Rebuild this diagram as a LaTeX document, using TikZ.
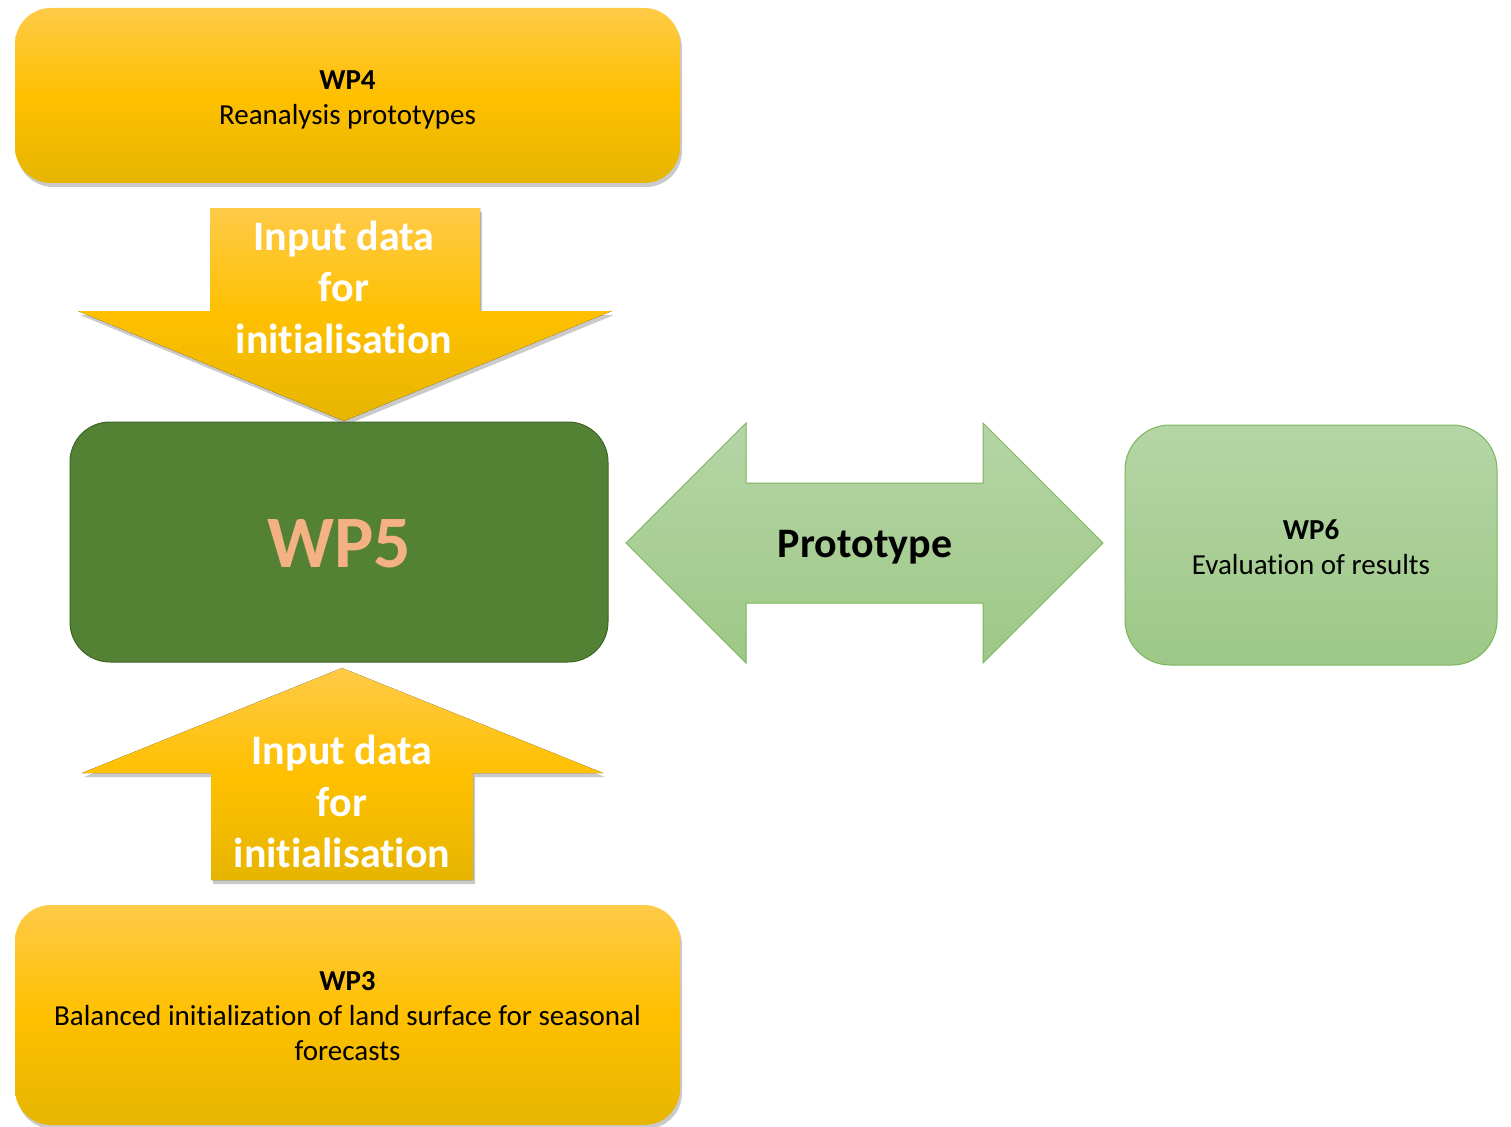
\documentclass[tikz,border=0pt]{standalone}
\usepackage{fontspec}
\setmainfont{Carlito}[Ligatures=NoCommon]
\usetikzlibrary{shadows}
\definecolor{goldtop}{HTML}{FFCA48}
\definecolor{goldmid}{HTML}{FFC000}
\definecolor{goldbot}{HTML}{E6B500}
\definecolor{darkgreen}{HTML}{548235}
\definecolor{darkgreenline}{HTML}{3E6426}
\definecolor{lgtop}{HTML}{B5D5A6}
\definecolor{lgbot}{HTML}{9DC886}
\definecolor{lgline}{HTML}{7CB55A}
\definecolor{peach}{HTML}{F4B183}
\begin{document}
\begin{tikzpicture}[x=1pt,y=-1pt,
  goldfill/.style={top color=goldtop, bottom color=goldbot, middle color=goldmid,
    drop shadow={shadow xshift=2pt, shadow yshift=-4pt, opacity=0.35, fill=black!60}},
  goldbox/.style={goldfill, rounded corners=36pt, inner sep=0pt},
  boxtext/.style={align=center, font=\fontsize{29}{35}\selectfont},
  lgfill/.style={top color=lgtop, bottom color=lgbot, draw=lgline, line width=1pt},
  arrowtext/.style={text=white, font=\bfseries\fontsize{42}{51.5}\selectfont, align=center},
]
\useasboundingbox (0,0) rectangle (1511,1126);

% boxes
\node[goldbox, minimum width=665pt, minimum height=175pt] (wp4) at (347.5,95.5) {};
\node[boxtext] (wp4txt) at ([yshift=-4pt]wp4.center) {\textbf{WP4}\\Reanalysis prototypes};
\node[goldbox, minimum width=665pt, minimum height=220pt] (wp3) at (347.5,1015) {};
\node[boxtext] (wp3txt) at ([yshift=-1pt]wp3.center)
  {\textbf{WP3}\\Balanced initialization of land surface for seasonal\\forecasts};
\node[fill=darkgreen, draw=darkgreenline, line width=1pt, rounded corners=40pt,
  minimum width=538pt, minimum height=240pt, inner sep=0pt] (wp5) at (339,542) {};
\node[text=peach, font=\bfseries\fontsize{74}{80}\selectfont] (wp5txt)
  at ([yshift=-2pt]wp5.center) {WP5};
\node[lgfill, rounded corners=45pt, minimum width=372pt, minimum height=240pt,
  inner sep=0pt] (wp6) at (1311,545) {};
\node[boxtext] (wp6txt) at ([yshift=-2pt]wp6.center) {\textbf{WP6}\\Evaluation of results};

% down arrow WP4 -> WP5
\fill[goldfill] (210,208) -- (480,208) -- (480,311) -- (612,311) -- (344,421)
  -- (78,311) -- (210,311) -- cycle;
\node[arrowtext] (downtxt) at (344,287) {Input data\\for\\initialisation};

% up arrow WP3 -> WP5
\fill[goldfill] (342,668) -- (603,773) -- (473,773) -- (473,880) -- (211,880)
  -- (211,773) -- (82,773) -- cycle;
\node[arrowtext] (uptxt) at (342,801.5) {Input data\\for\\initialisation};

% double arrow WP5 <-> WP6
\path[lgfill] (626,543) -- (746,423) -- (746,483) -- (983,483) -- (983,423)
  -- (1103,543) -- (983,663) -- (983,603) -- (746,603) -- (746,663) -- cycle;
\node[font=\bfseries\fontsize{42}{48}\selectfont] (prot) at (865,547) {Prototype};
\end{tikzpicture}
\end{document}
